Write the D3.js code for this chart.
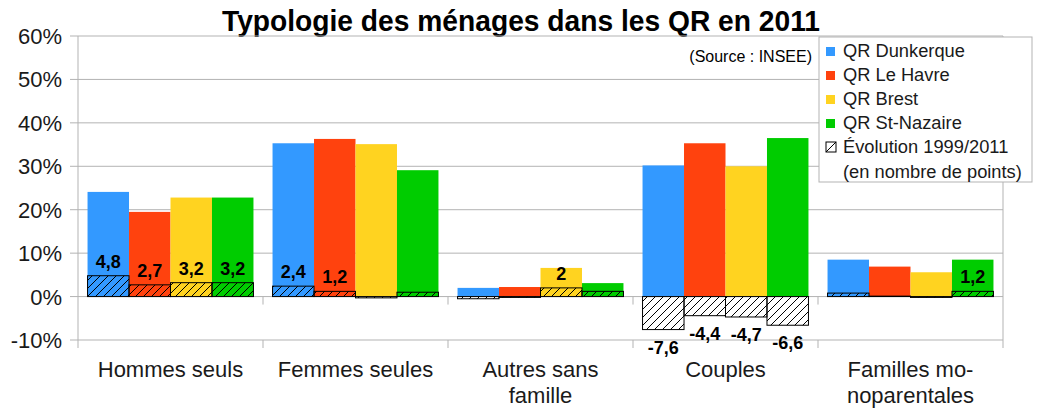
<!DOCTYPE html>
<html>
<head>
<meta charset="utf-8">
<script src="https://cdn.jsdelivr.net/npm/d3@7"></script>
<style>
  body { margin: 0; background: #fff; }
  text { font-family: "Liberation Sans", Arial, sans-serif; }
</style>
</head>
<body>
<script>
// data (percent and points)
var categories = ["Hommes seuls", "Femmes seules", "Autres sans famille", "Couples", "Familles monoparentales"];
var categoryLines = [["Hommes seuls"], ["Femmes seules"], ["Autres sans", "famille"], ["Couples"], ["Familles mo-", "noparentales"]];
var series = ["QR Dunkerque", "QR Le Havre", "QR Brest", "QR St-Nazaire"];
var colors = ["#3399ff", "#ff420e", "#ffd320", "#00cc00"];

var dunkerque = [24.1, 35.3, 2.0, 30.2, 8.5];
var leHavre   = [19.5, 36.3, 2.2, 35.3, 6.9];
var brest     = [22.8, 35.1, 6.6, 30.0, 5.6];
var stNazaire = [22.8, 29.1, 3.1, 36.5, 8.5];

var evoDunkerque = [4.8, 2.4, -0.5, -7.6, 0.8];
var evoLeHavre   = [2.7, 1.2, -0.2, -4.4, 0.1];
var evoBrest     = [3.2, -0.3, 2.0, -4.7, -0.2];
var evoStNazaire = [3.2, 1.0, 1.2, -6.6, 1.2];

var labDunkerque = ["4,8", "2,4", "", "-7,6", ""];
var labLeHavre   = ["2,7", "1,2", "", "-4,4", ""];
var labBrest     = ["3,2", "", "2", "-4,7", ""];
var labStNazaire = ["3,2", "", "", "-6,6", "1,2"];

var yTicks = [-10, 0, 10, 20, 30, 40, 50, 60];

var values = [dunkerque, leHavre, brest, stNazaire];
var evos = [evoDunkerque, evoLeHavre, evoBrest, evoStNazaire];
var labs = [labDunkerque, labLeHavre, labBrest, labStNazaire];

var width = 1039, height = 412;
var plotLeft = 78, plotRight = 1003, plotTop = 36, plotBottom = 340;

var svg = d3.select('body').append('svg')
            .attr('width', width)
            .attr('height', height);

var defs = svg.append('defs');
defs.append('pattern')
    .attr('id', 'hatch')
    .attr('patternUnits', 'userSpaceOnUse')
    .attr('width', 8).attr('height', 8)
  .append('path')
    .attr('d', 'M-2,2 l4,-4 M0,8 l8,-8 M6,10 l4,-4')
    .attr('stroke', '#000')
    .attr('stroke-width', 1);

var y = d3.scaleLinear().domain([-10, 60]).range([plotBottom, plotTop]);
var x = d3.scaleBand().domain(categories).range([plotLeft, plotRight]);
var xs = d3.scaleBand().domain(series).range([0, x.bandwidth()]).paddingInner(0).paddingOuter(0.23);

// title and source
svg.append('text')
   .attr('x', 222).attr('y', 31)
   .attr('textLength', 598)
   .attr('lengthAdjust', 'spacingAndGlyphs')
   .style('font-weight', 'bold')
   .style('font-size', '30px')
   .text('Typologie des ménages dans les QR en 2011');

svg.append('text')
   .attr('x', 812).attr('y', 62)
   .attr('text-anchor', 'end')
   .style('font-size', '16px')
   .text('(Source : INSEE)');

// gridlines
svg.append('g').selectAll('line').data(yTicks).enter().append('line')
   .attr('x1', plotLeft - 8).attr('x2', plotRight)
   .attr('y1', function(d) { return y(d); })
   .attr('y2', function(d) { return y(d); })
   .attr('stroke', '#b3b3b3');

// y tick labels
svg.append('g').selectAll('text').data(yTicks).enter().append('text')
   .attr('x', 62)
   .attr('y', function(d) { return y(d) + 8; })
   .attr('text-anchor', 'end')
   .style('font-size', '22px')
   .style('fill', '#1a1a1a')
   .text(function(d) { return d + '%'; });

// colored bars
var rows = [];
series.forEach(function(s, i) {
  categories.forEach(function(c, j) {
    rows.push({ s: s, c: c, v: values[i][j], e: evos[i][j], l: labs[i][j], col: colors[i] });
  });
});

svg.append('g').selectAll('rect').data(rows).enter().append('rect')
   .attr('x', function(d) { return x(d.c) + xs(d.s); })
   .attr('width', xs.bandwidth())
   .attr('y', function(d) { return y(d.v); })
   .attr('height', function(d) { return y(0) - y(d.v); })
   .attr('fill', function(d) { return d.col; });

// hatched evolution bars
svg.append('g').selectAll('rect').data(rows).enter().append('rect')
   .attr('x', function(d) { return x(d.c) + xs(d.s); })
   .attr('width', xs.bandwidth())
   .attr('y', function(d) { return y(Math.max(0, d.e)); })
   .attr('height', function(d) { return Math.abs(y(0) - y(d.e)); })
   .attr('fill', 'url(#hatch)')
   .attr('stroke', '#000')
   .attr('stroke-width', 1);

// axis frame lines and ticks
var frame = svg.append('g').attr('stroke', '#b3b3b3');
frame.append('line').attr('x1', plotLeft).attr('x2', plotLeft).attr('y1', plotTop).attr('y2', plotBottom + 8);
frame.append('line').attr('x1', plotRight).attr('x2', plotRight).attr('y1', plotTop).attr('y2', plotBottom + 8);
var bounds = categories.map(function(c) { return x(c); }).slice(1);
bounds.forEach(function(b) {
  frame.append('line').attr('x1', b).attr('x2', b).attr('y1', y(0)).attr('y2', y(0) + 8);
  frame.append('line').attr('x1', b).attr('x2', b).attr('y1', plotBottom).attr('y2', plotBottom + 8);
});

// data labels
svg.append('g').selectAll('text').data(rows.filter(function(d) { return d.l !== ''; })).enter().append('text')
   .attr('x', function(d) { return x(d.c) + xs(d.s) + xs.bandwidth() / 2; })
   .attr('y', function(d) { return d.e >= 0 ? y(d.e) - 8 : y(d.e) + 24; })
   .attr('text-anchor', 'middle')
   .style('font-weight', 'bold')
   .style('font-size', '18px')
   .text(function(d) { return d.l; });

// category labels
var cat = svg.append('g').selectAll('text').data(categories).enter().append('text')
   .attr('x', function(d) { return x(d) + x.bandwidth() / 2; })
   .attr('y', 377)
   .attr('text-anchor', 'middle')
   .style('font-size', '22px')
   .style('fill', '#1a1a1a');
cat.each(function(d, i) {
  var t = d3.select(this);
  categoryLines[i].forEach(function(line, k) {
    t.append('tspan')
     .attr('x', x(d) + x.bandwidth() / 2)
     .attr('dy', k === 0 ? 0 : 26)
     .text(line);
  });
});

// legend
var legend = svg.append('g');
legend.append('rect')
      .attr('x', 819).attr('y', 37)
      .attr('width', 213).attr('height', 145)
      .attr('fill', '#fff').attr('stroke', '#b3b3b3');

series.forEach(function(s, i) {
  var cy = 51 + i * 24;
  legend.append('rect').attr('x', 826).attr('y', cy - 4).attr('width', 9).attr('height', 9).attr('fill', colors[i]);
  legend.append('text').attr('x', 843).attr('y', cy + 6).style('font-size', '18.3px').style('fill', '#1a1a1a').text(s);
});
var ey = 51 + 4 * 24;
legend.append('rect').attr('x', 826).attr('y', ey - 5).attr('width', 10).attr('height', 10)
      .attr('fill', '#fff').attr('stroke', '#000');
legend.append('line').attr('x1', 826).attr('y1', ey + 5).attr('x2', 836).attr('y2', ey - 5).attr('stroke', '#000');
legend.append('text').attr('x', 843).attr('y', ey + 6).style('font-size', '18.3px').style('fill', '#1a1a1a').text('Évolution 1999/2011');
legend.append('text').attr('x', 843).attr('y', ey + 31).style('font-size', '18.3px').style('fill', '#1a1a1a').text('(en nombre de points)');
</script>
</body>
</html>
